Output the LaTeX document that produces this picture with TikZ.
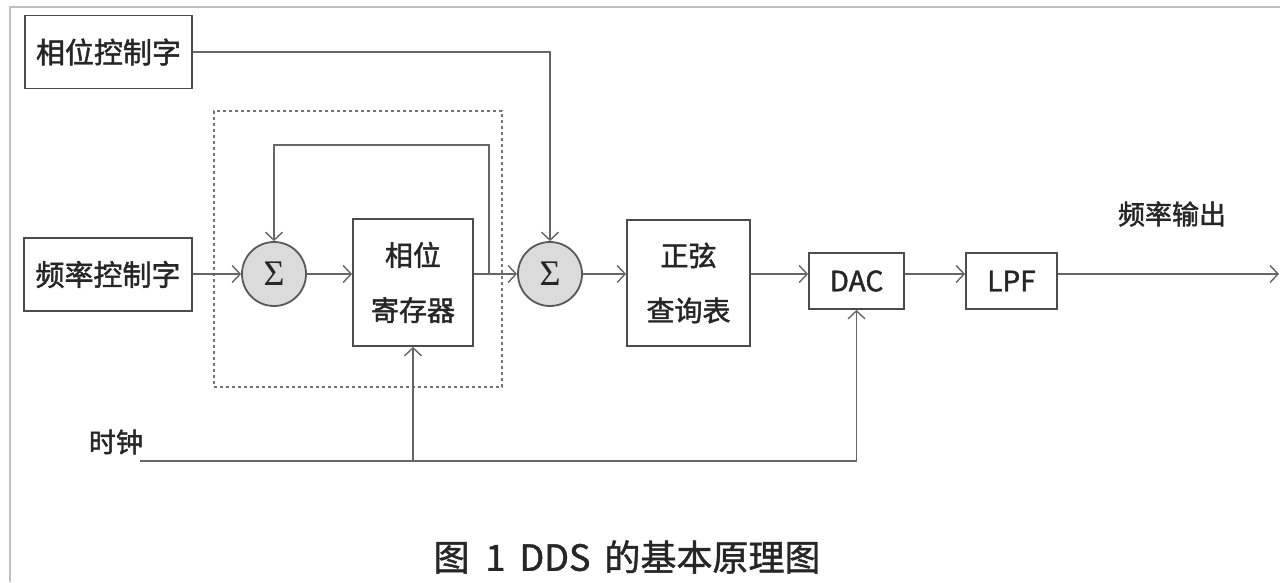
\documentclass[tikz,border=0pt]{standalone}
\usepackage{fontspec}
\setmainfont{Noto Sans CJK SC}[FakeBold=1.2]
\newfontfamily\bcjk{Noto Sans CJK SC}[FakeBold=1.6]
\newfontfamily\sigmafont{Liberation Serif}
\usetikzlibrary{arrows.meta}
\begin{document}
\begin{tikzpicture}[x=1pt,y=-1pt,
  blk/.style={draw=black!70, line width=1.8pt, fill=white, inner sep=0pt, align=center,
    font=\bcjk\fontsize{28}{55}\selectfont, text=black!85},
  sumnode/.style={circle, draw=black!65, line width=1.8pt, fill=black!14, minimum size=64pt, inner sep=0pt,
    font=\sigmafont\fontsize{36}{36}\selectfont, text=black!85},
  wire/.style={draw=black!60, line width=1.6pt},
  arr/.style={wire, -{Straight Barb[length=8pt,width=17pt,line width=1.4pt]}},
  lbl/.style={font=\bcjk\fontsize{27}{30}\selectfont, text=black!85, inner sep=0pt},
]
\useasboundingbox (0,0) rectangle (1280,582);
\fill[white] (0,0) rectangle (1280,582);
\draw[black!25, line width=1.5pt] (10,582) -- (10,7) -- (1280,7);

% dotted accumulator boundary
\node[draw=black!55, line width=1.6pt, dash pattern=on 3pt off 3pt, minimum width=288pt, minimum height=276pt, inner sep=0pt] (acc) at (358,249) {};

% blocks
\node[blk, minimum width=167pt, minimum height=73pt, font=\bcjk\fontsize{29}{30}\selectfont] (pcw) at (108.5,52) {相位控制字};
\node[blk, minimum width=168pt, minimum height=73pt, font=\bcjk\fontsize{29}{30}\selectfont] (fcw) at (108,274.5) {频率控制字};
\node[sumnode] (sum1) at (274,274) {Σ};
\node[blk, minimum width=120pt, minimum height=127pt] (reg) at (413,282.5) {相位\\寄存器};
\node[sumnode] (sum2) at (550,274) {Σ};
\node[blk, minimum width=123pt, minimum height=126pt] (sin) at (688.5,283) {正弦\\查询表};
\node[blk, minimum width=95pt, minimum height=56pt] (dac) at (856.5,281) {DAC};
\node[blk, minimum width=91pt, minimum height=56pt] (lpf) at (1011.5,281) {LPF};

% labels
\node[lbl] (clklbl) at (116,442) {时钟};
\node[lbl] (outlbl) at (1172,214) {频率输出};
\node[font=\fontsize{36}{40}\selectfont, text=black!85, inner sep=0pt] (cap) at (627,557) {图\hspace{16pt}1\hspace{14pt}DDS\hspace{14pt}的基本原理图};

% coordinates
\coordinate (fbR) at (489,145);
\coordinate (out) at (1279,274);
\coordinate (clk) at (140,461);

% connectors
\draw[arr] (fcw.east |- sum1.west) -- (sum1.west);
\draw[arr] (sum1.east) -- (sum1.east -| reg.west);
\draw[arr] (reg.east |- sum1.east) -| (fbR) -| (sum1.north);
\draw[arr] (reg.east |- sum2.west) -- (sum2.west);
\draw[arr] (pcw.east) -| (sum2.north);
\draw[arr] (sum2.east) -- (sum2.east -| sin.west);
\draw[arr] (sin.east |- sum2.east) -- (dac.west |- sum2.east);
\draw[arr] (dac.east |- sum2.east) -- (lpf.west |- sum2.east);
\draw[arr] (lpf.east |- sum2.east) -- (out);
\draw[arr] (clk) -| (dac.south);
\draw[arr] (reg.south |- clk) -- (reg.south);
\end{tikzpicture}
\end{document}
